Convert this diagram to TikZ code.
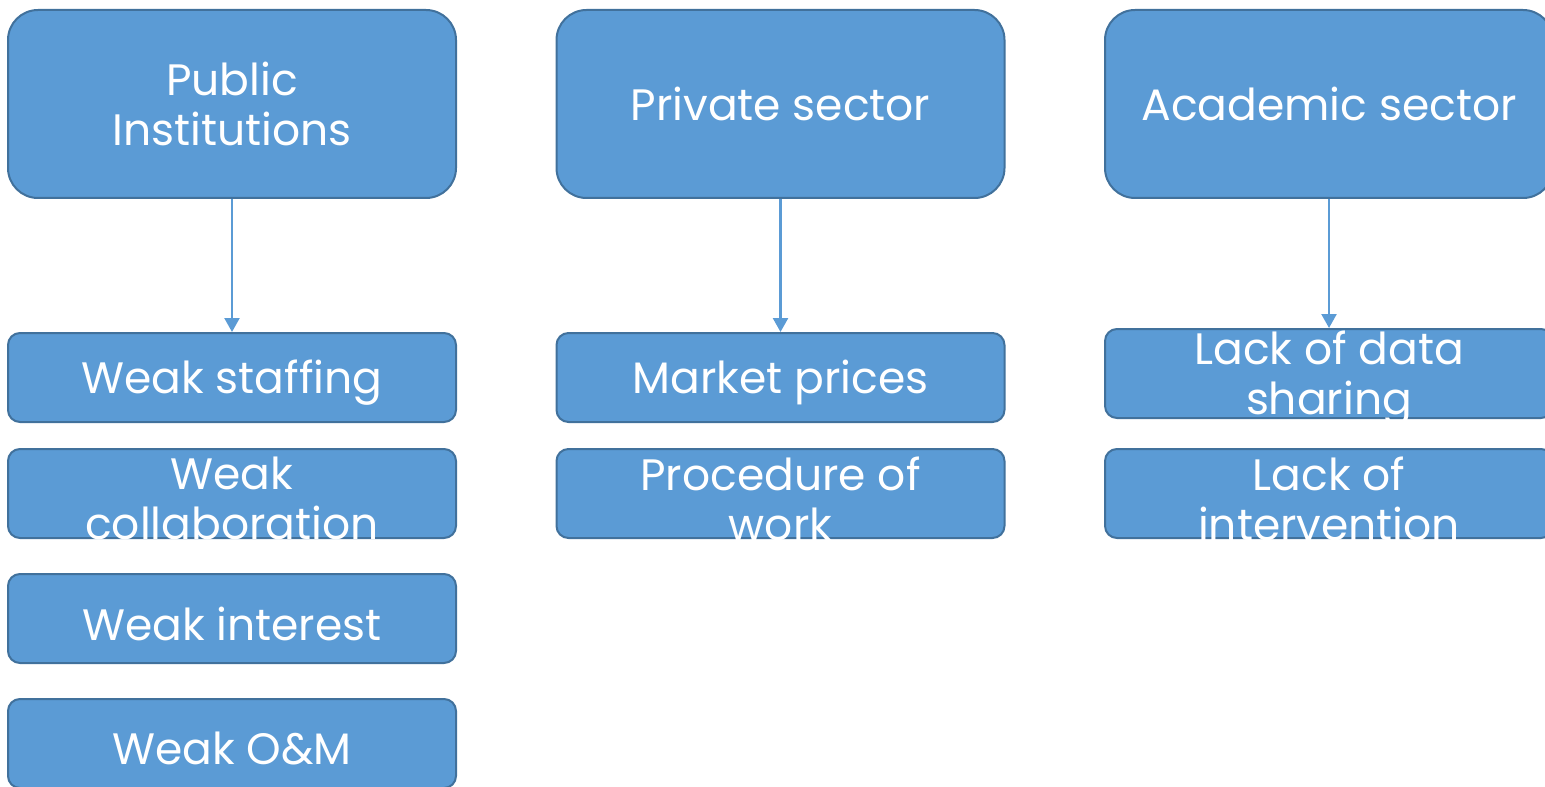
\documentclass[tikz,border=0pt]{standalone}
\usepackage{fontspec}
\setmainfont{Poppins}
\usetikzlibrary{arrows.meta}
\definecolor{boxfill}{HTML}{5B9BD5}
\definecolor{boxline}{HTML}{41719C}

\begin{document}
\begin{tikzpicture}[x=0.5pt,y=-0.5pt]
        \tikzset{cell/.style={draw=boxline,fill=boxfill,line width=1pt,
                minimum width=224pt,minimum height=44.5pt,inner sep=0pt,rounded corners=6pt},
            head/.style={cell,minimum height=94pt,rounded corners=15pt},
            txt/.style={text=white,align=center,inner sep=0pt,
                font=\fontsize{22pt}{25pt}\selectfont},
            celltxt/.style={txt,yshift=-2.5pt},
            link/.style={draw=boxfill,line width=1.2pt,-{Triangle[length=7pt,width=7.5pt]}}}
        \useasboundingbox (0,0) rectangle (1545,786);
        % top row
        \node[head] (pub) at (232,104) {};
        \node[head] (priv) at (780.5,104) {};
        \node[head] (acad) at (1329,104) {};
        \node[txt] (pubtext) at (pub) {Public\\Institutions};
        \node[txt] (privtext) at (priv) {Private sector};
        \node[txt] (acadtext) at (acad) {Academic sector};
        % issues
        \node[cell] (staff) at (232,377.5) {};
        \node[cell] (collab) at (232,493.5) {};
        \node[cell] (interest) at (232,618.5) {};
        \node[cell] (om) at (232,743.5) {};
        \node[cell] (market) at (780.5,377.5) {};
        \node[cell] (proc) at (780.5,493.5) {};
        \node[cell] (data) at (1329,373.5) {};
        \node[cell] (interv) at (1329,493.5) {};
        \node[celltxt] (stafftext) at (staff) {Weak staffing};
        \node[celltxt] (collabtext) at (collab) {Weak\\collaboration};
        \node[celltxt] (interesttext) at (interest) {Weak interest};
        \node[celltxt] (omtext) at (om) {Weak O\&M};
        \node[celltxt] (markettext) at (market) {Market prices};
        \node[celltxt] (proctext) at (proc) {Procedure of\\work};
        \node[celltxt] (datatext) at (data) {Lack of data\\sharing};
        \node[celltxt] (intervtext) at (interv) {Lack of\\intervention};
        \draw[link] (pub) -- (staff);
        \draw[link] (priv) -- (market);
        \draw[link] (acad) -- (data);
\end{tikzpicture}
\end{document}
